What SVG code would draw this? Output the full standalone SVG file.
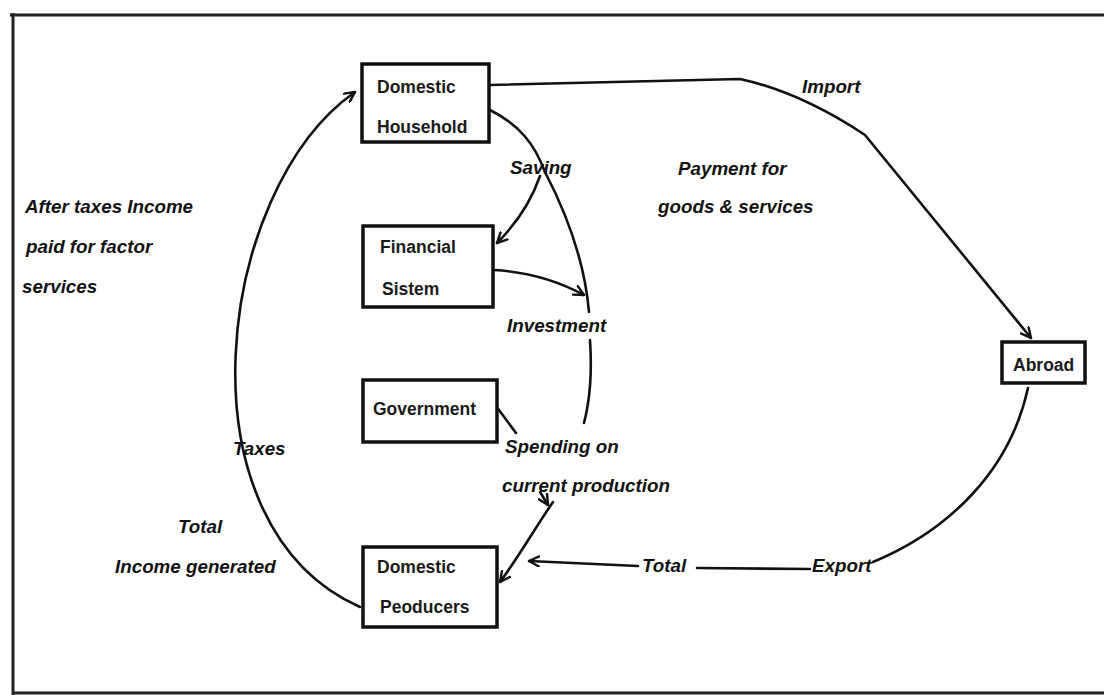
<svg xmlns="http://www.w3.org/2000/svg" width="1104" height="695" viewBox="0 0 1104 695">
<style>
.box{fill:#fff;stroke:#111;stroke-width:3.5}
.bt{font-family:"Liberation Sans",Arial,sans-serif;font-size:17.5px;font-weight:bold;fill:#1a1a1a}
.lb{font-family:"Liberation Sans",Arial,sans-serif;font-size:18.8px;font-weight:bold;font-style:italic;fill:#111}
.ln{fill:none;stroke:#111;stroke-width:2.6;stroke-linecap:round;stroke-linejoin:round}
.frame{fill:none;stroke:#222;stroke-width:3}
</style>
<defs>
<marker id="ah" viewBox="0 0 12 12" refX="11" refY="6" markerWidth="12" markerHeight="12" markerUnits="userSpaceOnUse" orient="auto">
<path d="M1,1 L11,6 L1,11" fill="none" stroke="#111" stroke-width="2.4" stroke-linecap="round" stroke-linejoin="round"/>
</marker>
</defs>
<rect width="1104" height="695" fill="#fff"/>
<g id="frame">
<path class="frame" d="M10,15 L1104,15"/>
<path class="frame" d="M13,13 L13,695"/>
<path class="frame" d="M13,693 L1104,693" stroke="#555"/>
</g>
<g id="connectors">
<path class="ln" d="M360,607 C175,525 215,190 355,92" marker-end="url(#ah)"/>
<path class="ln" d="M490,110 C520,125 535,145 545,172"/>
<path class="ln" d="M545,172 C570,220 585,265 589,312"/>
<path class="ln" d="M590,340 C592,370 590,400 584,423"/>
<path class="ln" d="M540,176 C530,205 515,225 497,243" marker-end="url(#ah)"/>
<path class="ln" d="M494,270 C530,272 560,282 584,295" marker-end="url(#ah)"/>
<path class="ln" d="M496,406 L516,433"/>
<path class="ln" d="M540,492 L548,505" marker-end="url(#ah)"/>
<path class="ln" d="M553,502 C535,528 520,555 500,582" marker-end="url(#ah)"/>
<path class="ln" d="M490,85 L740,79 Q800,92 865,135 L1031,338" marker-end="url(#ah)"/>
<path class="ln" d="M1028,388 C1010,470 950,530 873,562"/>
<path class="ln" d="M810,569 L697,568"/>
<path class="ln" d="M638,566 L529,561" marker-end="url(#ah)"/>
</g>
<g id="household">
<rect class="box" x="362" y="64" width="127" height="78"/>
<text class="bt" x="377" y="93">Domestic</text>
<text class="bt" x="377" y="133">Household</text>
</g>
<g id="financial">
<rect class="box" x="363" y="226" width="130" height="81"/>
<text class="bt" x="380" y="253">Financial</text>
<text class="bt" x="382" y="295">Sistem</text>
</g>
<g id="government">
<rect class="box" x="363" y="380" width="134" height="62"/>
<text class="bt" x="373" y="415">Government</text>
</g>
<g id="producers">
<rect class="box" x="363" y="547" width="134" height="80"/>
<text class="bt" x="377" y="573">Domestic</text>
<text class="bt" x="380" y="613">Peoducers</text>
</g>
<g id="abroad">
<rect class="box" x="1002" y="342" width="83" height="41"/>
<text class="bt" x="1013" y="371">Abroad</text>
</g>
<g id="labels">
<text class="lb" x="802" y="93">Import</text>
<text class="lb" x="678" y="175">Payment for</text>
<text class="lb" x="658" y="213">goods &amp; services</text>
<text class="lb" x="25" y="213">After taxes Income</text>
<text class="lb" x="26" y="253">paid for factor</text>
<text class="lb" x="22" y="293">services</text>
<text class="lb" x="510" y="174">Saving</text>
<text class="lb" x="507" y="332">Investment</text>
<text class="lb" x="505" y="453">Spending on</text>
<text class="lb" x="502" y="492">current production</text>
<text class="lb" x="233" y="455">Taxes</text>
<text class="lb" x="178" y="533">Total</text>
<text class="lb" x="115" y="573">Income generated</text>
<text class="lb" x="642" y="572">Total</text>
<text class="lb" x="812" y="572">Export</text>
</g>
</svg>
